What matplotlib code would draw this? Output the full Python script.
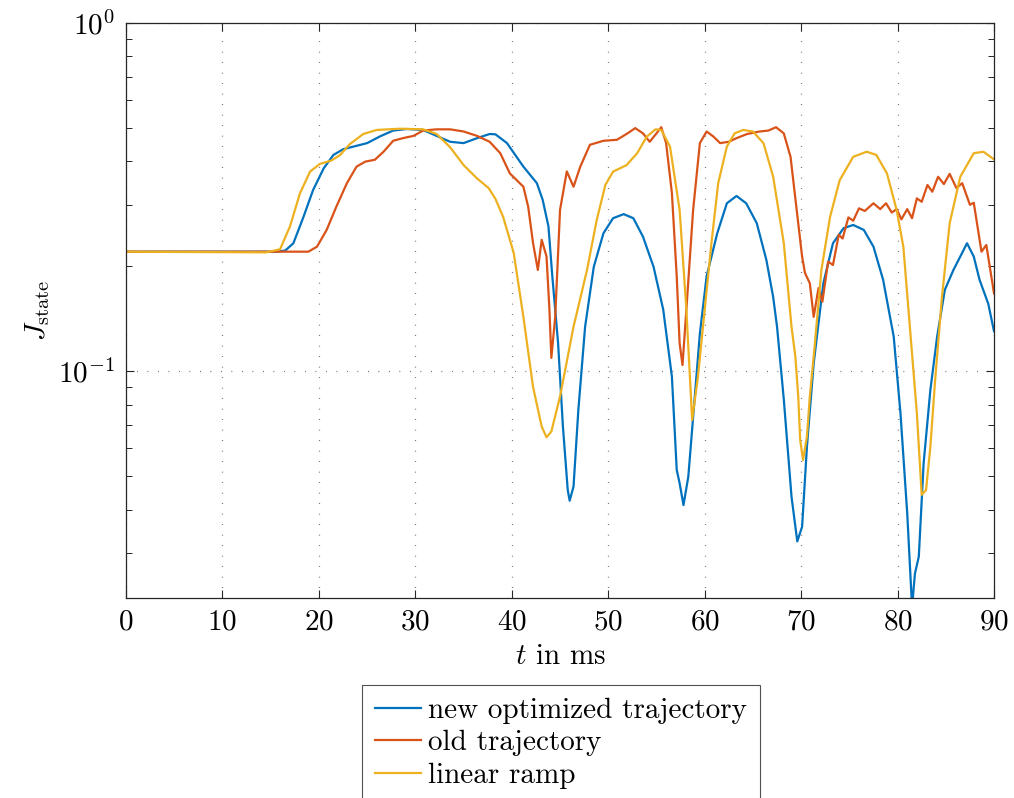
import matplotlib
matplotlib.use("Agg")
import matplotlib.pyplot as plt
from matplotlib.ticker import LogLocator, FixedLocator, NullFormatter

# Data (t in ms, J_state)
t_new = [0, 15.5, 16.5, 17.35, 18.4, 19.4, 20.5, 21.5, 22.5, 23.9, 25.0, 26.3, 27.7, 29.1, 30.8,
         32.2, 33.6, 35.0, 36.4, 37.7, 38.3, 39.5, 41.2, 42.6, 43.2, 43.8, 44.2, 44.8, 45.3, 45.8,
         46.0, 46.4, 46.9, 47.6, 48.5, 49.5, 50.5, 51.6, 52.6, 53.6, 54.7, 55.7, 56.6, 57.1, 57.4,
         57.8, 58.3, 59.0, 59.5, 60.2, 61.3, 62.3, 63.3, 64.3, 65.4, 66.4, 67.1, 67.5, 68.2, 69.0,
         69.6, 70.1, 70.6, 71.3, 72.3, 73.3, 74.4, 75.4, 76.5, 77.5, 78.5, 79.6, 80.3, 81.0, 81.5,
         81.8, 82.2, 82.7, 83.4, 84.1, 84.9, 85.8, 86.5, 87.2, 87.9, 88.5, 89.4, 90.0]
J_new = [0.220, 0.220, 0.2216, 0.2326, 0.277, 0.331, 0.382, 0.417, 0.433, 0.443, 0.451, 0.471,
         0.490, 0.495, 0.492, 0.473, 0.455, 0.451, 0.466, 0.479, 0.478, 0.451, 0.386, 0.346,
         0.310, 0.260, 0.187, 0.120, 0.0692, 0.0455, 0.0424, 0.0466, 0.0773, 0.134, 0.199,
         0.2485, 0.2745, 0.282, 0.2745, 0.243, 0.199, 0.150, 0.0963, 0.052, 0.0476, 0.0412,
         0.0497, 0.0863, 0.128, 0.187, 0.2485, 0.303, 0.318, 0.303, 0.2655, 0.208, 0.163, 0.134,
         0.083, 0.0436, 0.0324, 0.0357, 0.0606, 0.105, 0.1785, 0.2326, 0.257, 0.2625, 0.254,
         0.2274, 0.1827, 0.1254, 0.0756, 0.039, 0.021, 0.0262, 0.0293, 0.0543, 0.0882, 0.1254,
         0.171, 0.1952, 0.213, 0.2326, 0.213, 0.1827, 0.156, 0.130]

t_old = [0, 18.9, 19.8, 20.8, 21.8, 22.9, 23.9, 24.8, 25.8, 26.7, 27.7, 28.7, 29.8, 30.8, 32.2,
         33.6, 35.0, 36.4, 37.7, 38.8, 39.8, 41.2, 41.7, 42.2, 42.7, 43.1, 43.6, 43.9, 44.1, 44.5,
         45.0, 45.7, 46.4, 47.1, 48.1, 49.5, 50.9, 52.0, 52.8, 53.6, 54.3, 55.0, 55.5, 56.0, 56.6,
         57.1, 57.4, 57.7, 58.1, 58.8, 59.5, 60.2, 60.9, 61.6, 62.5, 63.3, 64.4, 65.7, 66.6, 67.4,
         68.2, 68.9, 69.5, 70.1, 70.4, 70.9, 71.3, 71.8, 72.2, 72.8, 73.3, 73.9, 74.3, 74.9, 75.4,
         76.0, 76.6, 77.5, 78.2, 78.8, 79.4, 79.9, 80.4, 81.0, 81.5, 82.0, 82.5, 83.1, 83.6, 84.2,
         84.8, 85.4, 86.1, 86.7, 87.5, 87.9, 88.7, 89.2, 90.0]
J_old = [0.220, 0.220, 0.2274, 0.254, 0.296, 0.346, 0.386, 0.399, 0.404, 0.426, 0.458, 0.466,
         0.473, 0.490, 0.494, 0.494, 0.487, 0.473, 0.455, 0.422, 0.369, 0.338, 0.296, 0.233,
         0.195, 0.238, 0.213, 0.150, 0.109, 0.143, 0.290, 0.374, 0.338, 0.386, 0.446, 0.458,
         0.461, 0.481, 0.498, 0.481, 0.455, 0.481, 0.501, 0.451, 0.324, 0.187, 0.120, 0.104,
         0.150, 0.290, 0.451, 0.487, 0.471, 0.451, 0.455, 0.466, 0.479, 0.487, 0.490, 0.501,
         0.481, 0.412, 0.296, 0.213, 0.191, 0.1785, 0.143, 0.173, 0.158, 0.206, 0.2015, 0.246,
         0.240, 0.276, 0.270, 0.293, 0.288, 0.303, 0.2915, 0.303, 0.285, 0.2915, 0.2725, 0.2915,
         0.2745, 0.313, 0.306, 0.342, 0.327, 0.361, 0.344, 0.368, 0.335, 0.346, 0.300, 0.304,
         0.220, 0.230, 0.167]

t_lin = [0, 14.5, 15.97, 17.0, 18.04, 19.08, 20.1, 21.3, 22.2, 23.2, 24.6, 26.0, 28.4, 30.8,
         32.2, 33.6, 35.0, 36.4, 37.6, 38.3, 39.1, 40.2, 41.2, 42.2, 43.1, 43.6, 44.1, 45.0, 46.4,
         47.8, 48.8, 49.7, 50.5, 51.9, 53.0, 54.0, 54.9, 55.5, 56.4, 57.4, 58.1, 58.7, 59.3, 60.0,
         60.7, 61.4, 62.3, 63.1, 64.0, 65.0, 66.1, 67.1, 68.2, 69.0, 69.4, 69.7, 69.9, 70.2, 70.6,
         70.9, 71.4, 72.1, 73.0, 74.0, 75.4, 76.8, 77.8, 78.9, 79.9, 80.6, 81.3, 82.0, 82.5, 82.95,
         83.4, 83.9, 84.6, 85.4, 86.5, 87.9, 88.9, 90.0]
J_lin = [0.220, 0.219, 0.2235, 0.260, 0.324, 0.3735, 0.393, 0.402, 0.417, 0.448, 0.479, 0.492,
         0.496, 0.494, 0.479, 0.439, 0.390, 0.357, 0.335, 0.312, 0.277, 0.218, 0.143, 0.090,
         0.0692, 0.0645, 0.067, 0.0844, 0.134, 0.195, 0.271, 0.342, 0.3735, 0.390, 0.422, 0.471,
         0.494, 0.492, 0.441, 0.290, 0.150, 0.0723, 0.0963, 0.150, 0.233, 0.346, 0.441, 0.481,
         0.492, 0.487, 0.4505, 0.361, 0.233, 0.134, 0.110, 0.0844, 0.0634, 0.0555, 0.0648,
         0.0844, 0.1175, 0.195, 0.277, 0.353, 0.412, 0.426, 0.417, 0.369, 0.290, 0.227, 0.131,
         0.0756, 0.0441, 0.0455, 0.0606, 0.0945, 0.163, 0.2655, 0.361, 0.422, 0.426, 0.405]

labels = ["new optimized trajectory", "old trajectory", "linear ramp"]
colors = ["#0072BD", "#D95319", "#EDB120"]
x_ticks = [0, 10, 20, 30, 40, 50, 60, 70, 80, 90]

plt.rcParams["font.family"] = ["cmr10", "DejaVu Serif"]
plt.rcParams["mathtext.fontset"] = "cm"
plt.rcParams["axes.formatter.use_mathtext"] = True
plt.rcParams["axes.unicode_minus"] = True

fig = plt.figure(figsize=(10.14, 7.98), dpi=100)
ax = fig.add_axes([0.1243, 0.2503, 0.8560, 0.7213])

for t, J, lab, col in zip([t_new, t_old, t_lin], [J_new, J_old, J_lin], labels, colors):
    ax.plot(t, J, color=col, lw=1.6, label=lab, solid_joinstyle="round")

ax.set_yscale("log")
ax.set_xlim(0, 90)
ax.set_ylim(0.02225, 1.0)
ax.xaxis.set_major_locator(FixedLocator(x_ticks))
ax.yaxis.set_major_locator(LogLocator(base=10, numticks=5))
ax.yaxis.set_minor_locator(LogLocator(base=10, subs=range(2, 10), numticks=20))
ax.yaxis.set_minor_formatter(NullFormatter())

spine_col = "#262626"
for s in ax.spines.values():
    s.set_color(spine_col)
    s.set_linewidth(0.9)
ax.tick_params(which="both", direction="in", top=True, right=True, colors=spine_col,
               labelcolor="black", labelsize=21)
ax.tick_params(which="major", length=6, width=0.8, pad=8)
ax.tick_params(which="minor", length=4, width=0.7)

ax.grid(True, which="major", color="black", alpha=0.7, lw=0.9, linestyle=(0, (0.6, 7.8)))

ax.set_xlabel(r"$t$ in ms", fontsize=21, labelpad=6)
ax.set_ylabel(r"$J_{\mathrm{state}}$", fontsize=21, labelpad=4)

leg = fig.legend(loc="upper center", bbox_to_anchor=(561 / 1014, 1 - 685 / 798),
                 fontsize=21, frameon=True, fancybox=False, handlelength=1.55,
                 handletextpad=0.25, labelspacing=0.2, borderpad=0.44, borderaxespad=0)
leg.get_frame().set_edgecolor("#262626")
leg.get_frame().set_linewidth(0.8)

fig.savefig("out.png", dpi=100)
